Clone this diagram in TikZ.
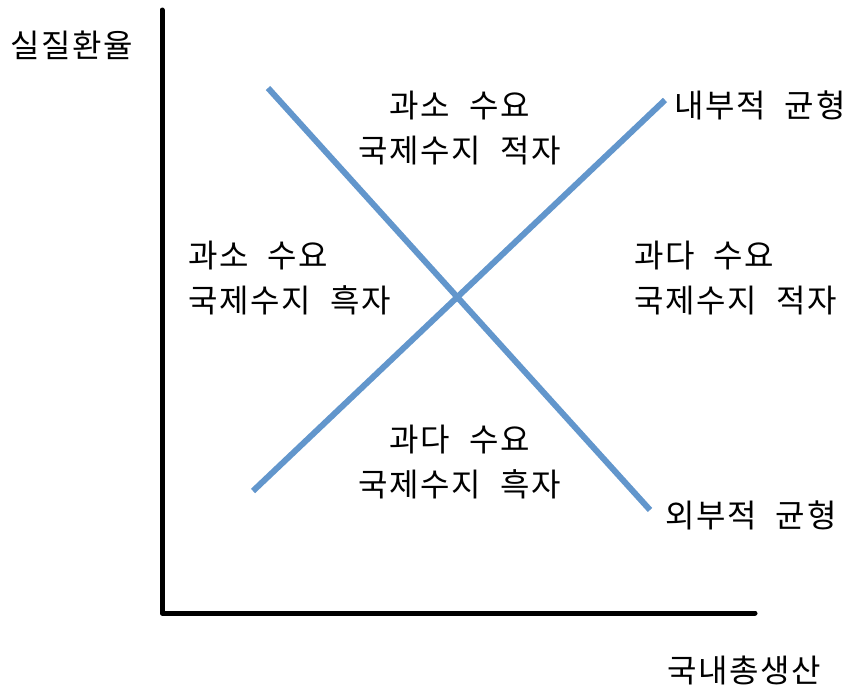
\documentclass[tikz,border=0pt]{standalone}
\usepackage{fontspec}
\setmainfont[LetterSpace=5, WordSpace=2.2]{Noto Sans CJK KR}
\usetikzlibrary{positioning}

\definecolor{balblue}{RGB}{98,150,204}

\begin{document}
\begin{tikzpicture}[x=1pt, y=-1pt,
  axis/.style={line width=5pt, line cap=round, line join=round},
  balance/.style={line width=6pt, balblue},
  lbl/.style={inner sep=0pt, font=\fontsize{32}{45}\selectfont},
  area/.style={lbl, align=center},
  areal/.style={lbl, align=left, anchor=west}]
\useasboundingbox (0,0) rectangle (848,691);
\draw[axis] (162,10) -- (162,613) -- (755,613);
\node[lbl] (rate) at (72,45) {실질환율};
\node[lbl] (gdp) at (744,670) {국내총생산};
\coordinate (ext-a) at (268,88);
\coordinate (ext-b) at (650,510);
\coordinate (int-a) at (253,491);
\coordinate (int-b) at (665,100);
\draw[balance] (ext-a) -- (ext-b);
\draw[balance] (int-a) -- (int-b);
\node[lbl, anchor=west] (internal) at (674,105) {내부적 균형};
\node[lbl, anchor=west] (external) at (665,515) {외부적 균형};
\node[area] (top) at (460,128) {과소 수요\\국제수지 적자};
\node[areal] (left) at (188,278) {과소 수요\\국제수지 흑자};
\node[areal] (right) at (634,278) {과다 수요\\국제수지 적자};
\node[area] (bottom) at (460,462) {과다 수요\\국제수지 흑자};
\end{tikzpicture}
\end{document}
